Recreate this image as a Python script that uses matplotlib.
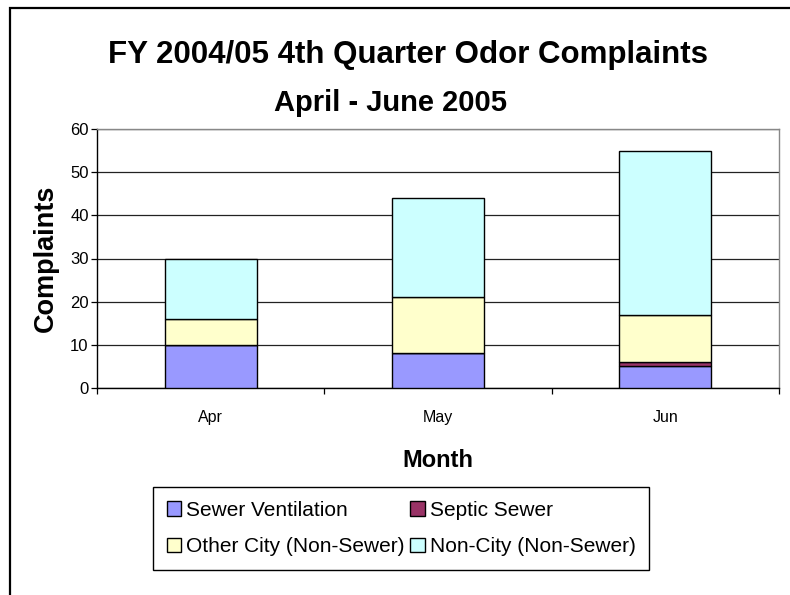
import matplotlib
matplotlib.use("Agg")
import matplotlib.pyplot as plt
from matplotlib.patches import Rectangle, Patch
import numpy as np

plt.rcParams['font.family'] = ['Liberation Sans', 'DejaVu Sans']

months = ["Apr", "May", "Jun"]
series_names = ["Sewer Ventilation", "Septic Sewer", "Other City (Non-Sewer)", "Non-City (Non-Sewer)"]
sewer_ventilation = [10, 8, 5]
septic_sewer = [0, 0, 1]
other_city = [6, 13, 11]
non_city = [14, 23, 38]
colors = ["#9999FF", "#993366", "#FFFFCC", "#CCFFFF"]

W, H = 790, 595
fig = plt.figure(figsize=(W / 100, H / 100), dpi=100)
fig.patch.set_facecolor("white")

# outer chart border (top and left visible)
fig.patches.append(Rectangle((10 / W, -0.05), 1.2, 1 - 8 / H + 0.05, transform=fig.transFigure,
                             fill=False, edgecolor="black", linewidth=1.6, zorder=0))

ax = fig.add_axes([97 / W, 1 - 388 / H, (779 - 97) / W, (388 - 129) / H])
x = np.arange(len(months))
width = 0.405
bottom = np.zeros(len(months))
handles = []
for name, vals, c in zip(series_names, [sewer_ventilation, septic_sewer, other_city, non_city], colors):
    vals = np.array(vals, dtype=float)
    ax.bar(x, vals, width, bottom=bottom, color=c, edgecolor="black", linewidth=1.0, zorder=3)
    bottom += vals
    handles.append(Patch(facecolor=c, edgecolor="black", linewidth=1.0, label=name))

ax.set_xlim(-0.5, 2.5)
ax.set_ylim(0, 60)
ax.set_yticks(np.arange(0, 61, 10))
ax.yaxis.grid(True, color="#222222", linewidth=0.9, zorder=1)
ax.set_axisbelow(True)
ax.tick_params(axis="y", direction="out", length=4, width=0.9, labelsize=12, pad=2, colors="black")
ax.set_xticks(x)
ax.set_xticklabels(months)
ax.tick_params(axis="x", which="major", length=0, labelsize=11.5, pad=16)
ax.set_xticks([-0.5, 0.5, 1.5, 2.5], minor=True)
ax.tick_params(axis="x", which="minor", direction="out", length=4, width=0.9)
for s in ["top", "right"]:
    ax.spines[s].set_color("#888888")
    ax.spines[s].set_linewidth(1.0)
for s in ["left", "bottom"]:
    ax.spines[s].set_color("black")
    ax.spines[s].set_linewidth(1.0)

ax.set_xlabel("Month", fontsize=17, fontweight="bold", labelpad=17)
ax.set_ylabel("Complaints", fontsize=19.5, fontweight="bold", labelpad=8)

fig.text(408 / W, 1 - 55 / H, "FY 2004/05 4th Quarter Odor Complaints", ha="center", va="center",
         fontsize=22.5, fontweight="bold")
fig.text(390 / W, 1 - 103 / H, "April - June 2005", ha="center", va="center",
         fontsize=21, fontweight="bold")

order = [0, 2, 1, 3]
leg = fig.legend([handles[i] for i in order], [series_names[i] for i in order], ncol=2,
                 loc="upper left", bbox_to_anchor=(153 / W, 1 - 487 / H), frameon=True, fancybox=False,
                 edgecolor="black", framealpha=1, fontsize=15, handlelength=0.7, handleheight=0.7,
                 handletextpad=0.25, columnspacing=0.25, borderpad=0.65, labelspacing=0.85,
                 borderaxespad=0)
leg.get_frame().set_linewidth(1.0)

fig.savefig("out.png", dpi=100)
